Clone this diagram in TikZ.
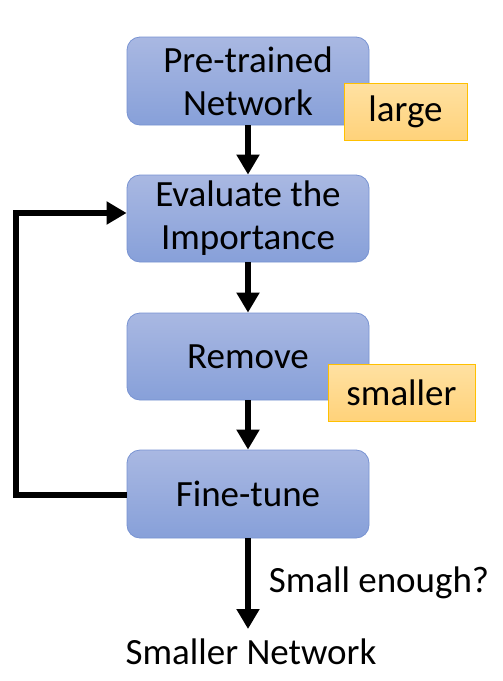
\documentclass[tikz,border=0pt]{standalone}
\usepackage{fontspec}
\setmainfont{Carlito}
\usetikzlibrary{arrows.meta,shapes.misc}
\definecolor{bluetop}{HTML}{A9B8E2}
\definecolor{bluebot}{HTML}{87A0D9}
\definecolor{blueedge}{HTML}{7893D2}
\definecolor{orgtop}{HTML}{FFE1A2}
\definecolor{orgbot}{HTML}{FFD27A}
\definecolor{orgedge}{HTML}{FFC000}
\tikzset{
  stepbox/.style={draw=blueedge, line width=0.8pt, rounded corners=13pt,
    top color=bluetop, bottom color=bluebot, minimum width=242pt,
    align=center, font=\fontsize{37}{43}\selectfont, inner sep=0pt},
  tagbox/.style={draw=orgedge, line width=1pt, top color=orgtop, bottom color=orgbot,
    font=\fontsize{37}{43}\selectfont, inner sep=0pt, minimum height=57pt},
  arr/.style={line width=6.5pt, -{Triangle[width=22pt,length=20pt]}},
  plain/.style={font=\fontsize{37}{43}\selectfont, inner sep=0pt}
}
\begin{document}
\begin{tikzpicture}[x=1pt,y=-1pt]
\fill[white] (0,0) rectangle (503,681);
\useasboundingbox (0,0) rectangle (503,681);
\node[stepbox, minimum height=88pt] (pt) at (248,81) {Pre-trained\\Network};
\node[tagbox, minimum width=123pt] (lg) at (405.5,111.5) {large};
\node[stepbox, minimum height=87pt] (ev) at (248,218.5) {Evaluate the\\Importance};
\node[stepbox, minimum height=87pt] (rm) at (248,356.5) {Remove};
\node[tagbox, minimum width=147pt] (sm) at (401.5,392.5) {smaller};
\node[stepbox, minimum height=88pt] (ft) at (248,494) {Fine-tune};
\node[plain] (sn) at (251,652) {Smaller Network};
\node[plain] (se) at (379,583) {Small enough?};
\coordinate (tip) at (248,629);
\coordinate (lp) at (16,495);
\draw[arr] (pt.south) -- (ev.north);
\draw[arr] (ev.south) -- (rm.north);
\draw[arr] (rm.south) -- (ft.north);
\draw[arr] (ft.south) -- (tip);
\draw[arr] (ft.west |- lp) -- (lp) |- ([yshift=5.5pt]ev.west);
\end{tikzpicture}
\end{document}
